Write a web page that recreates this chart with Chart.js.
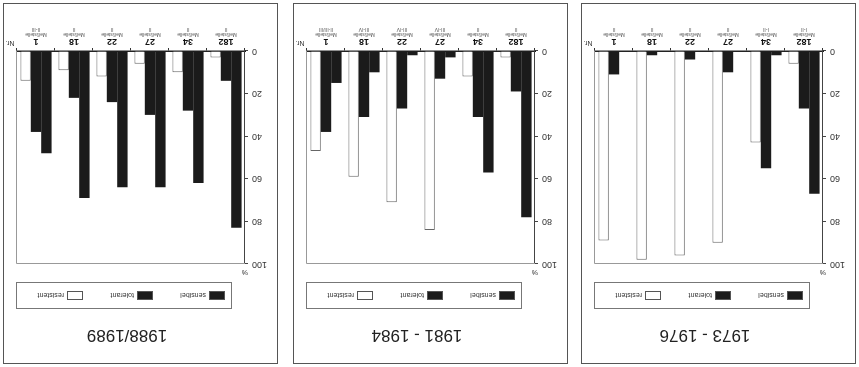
<!DOCTYPE html>
<html>
<head>
<meta charset="utf-8">
<script src="https://cdn.jsdelivr.net/npm/chart.js@4.4.1/dist/chart.umd.min.js"></script>
<style>
  body { margin: 0; background: #fff; }
  /* the sheet was scanned upside down, so the whole page is turned */
  #sheet { position: relative; width: 859px; height: 367px; transform: rotate(180deg); }
  .panel { position: absolute; top: 3px; width: 273px; height: 359px; border: 1px solid #555; }
  .panel canvas { position: absolute; left: 0; top: 0; }
</style>
</head>
<body>
<div id="sheet">
  <div class="panel" style="left:3px"><canvas id="p1" width="273" height="359"></canvas></div>
  <div class="panel" style="left:291px"><canvas id="p2" width="273" height="359"></canvas></div>
  <div class="panel" style="left:581px"><canvas id="p3" width="273" height="359"></canvas></div>
</div>
<script>
// Meßstellen
const stations = ['182', '34', '27', '22', '18', '1'];
const stationName = 'Meßstelle';
const yTicks = [0, 20, 40, 60, 80, 100];

// 1973 - 1976
const classes7376 = ['I-II', 'I-II', 'II', 'II', 'II', 'II'];
const sens7376 = [67, 2, 0, 0, 0, 0];
const tol7376 = [27, 55, 10, 4, 2, 11];
const res7376 = [6, 43, 90, 96, 98, 89];

// 1981 - 1984
const classes8184 = ['II', 'II', 'III-IV', 'III-IV', 'III-IV', 'II-III/III'];
const sens8184 = [78, 57, 3, 2, 10, 15];
const tol8184 = [19, 31, 13, 27, 31, 38];
const res8184 = [3, 12, 84, 71, 59, 47];

// 1988/1989
const classes8889 = ['II', 'II', 'II', 'II', 'II', 'II-III'];
const sens8889 = [83, 62, 64, 64, 69, 48];
const tol8889 = [14, 28, 30, 24, 22, 38];
const res8889 = [3, 10, 6, 12, 9, 14];

const FONT = '"Liberation Sans", Arial, sans-serif';
const DARK = '#1b1b1b';

// title, legend box, station labels and the frame
const decor = {
  id: 'decor',
  afterDraw(chart, args, opts) {
    const c = chart.ctx;
    const a = chart.chartArea;
    const x = chart.scales.x;
    c.save();
    c.fillStyle = '#222';
    c.textAlign = 'center';
    c.textBaseline = 'middle';
    c.font = '17px ' + FONT;
    c.fillText(opts.title, (a.left + a.right) / 2 + 4, 28);

    // legend
    c.strokeStyle = '#777';
    c.lineWidth = 1;
    c.strokeRect(45.5, 54.5, 215, 26);
    const items = [['sensibel', DARK, 52], ['tolerant', DARK, 124], ['resistent', '#fff', 194]];
    c.font = '7px ' + FONT;
    c.textAlign = 'left';
    items.forEach(([txt, col, px]) => {
      c.fillStyle = col;
      c.fillRect(px, 63, 15, 8);
      c.strokeStyle = '#555';
      c.strokeRect(px + 0.5, 63.5, 15, 8);
      c.fillStyle = '#333';
      c.fillText(txt, px + 19, 68);
    });

    // frame lines
    c.strokeStyle = '#999';
    c.beginPath();
    c.moveTo(a.left, a.top + 0.5);
    c.lineTo(a.right + 0.5, a.top + 0.5);
    c.lineTo(a.right + 0.5, a.bottom);
    c.stroke();

    // station labels under the axis
    c.textAlign = 'center';
    stations.forEach((s, i) => {
      const px = x.getPixelForValue(i);
      c.fillStyle = '#111';
      c.font = 'bold 9px ' + FONT;
      c.fillText(s, px, a.bottom + 10);
      c.fillStyle = '#555';
      c.font = '5px ' + FONT;
      c.fillText(stationName, px, a.bottom + 17);
      c.fillText(opts.classes[i], px, a.bottom + 22);
    });
    c.font = '7px ' + FONT;
    c.fillStyle = '#333';
    c.fillText('%', a.left, a.top - 8);
    c.fillText('Nr.', a.right + 7, a.bottom + 8);
    c.restore();
  }
};

function panel(id, title, classes, sens, tol, res) {
  new Chart(document.getElementById(id), {
    type: 'bar',
    data: {
      labels: stations,
      datasets: [
        { label: 'sensibel', data: sens, backgroundColor: DARK, borderWidth: 0 },
        { label: 'tolerant', data: tol, backgroundColor: DARK, borderWidth: 0 },
        { label: 'resistent', data: res, backgroundColor: '#fff', borderColor: '#666', borderWidth: 1 }
      ]
    },
    options: {
      responsive: false,
      animation: false,
      layout: { padding: { left: 6, top: 99, right: 13, bottom: 17 } },
      categoryPercentage: 0.82,
      barPercentage: 1,
      plugins: {
        legend: { display: false },
        tooltip: { enabled: false },
        decor: { title: title, classes: classes }
      },
      scales: {
        x: {
          ticks: { display: false },
          grid: { display: true, drawOnChartArea: false, tickLength: 3, color: '#333' },
          border: { color: '#222', width: 1.5 },
          afterFit(s) { s.height = 30; }
        },
        y: {
          min: 0, max: 100,
          afterBuildTicks(s) { s.ticks = yTicks.map(v => ({ value: v })); },
          ticks: { color: '#333', font: { size: 9, family: FONT }, padding: 4 },
          grid: { drawOnChartArea: false, tickLength: 3, color: '#444' },
          border: { color: '#444', width: 1 },
          afterFit(s) { s.width = 26; }
        }
      }
    },
    plugins: [decor]
  });
}

panel('p1', '1973 - 1976', classes7376, sens7376, tol7376, res7376);
panel('p2', '1981 - 1984', classes8184, sens8184, tol8184, res8184);
panel('p3', '1988/1989', classes8889, sens8889, tol8889, res8889);
</script>
</body>
</html>
